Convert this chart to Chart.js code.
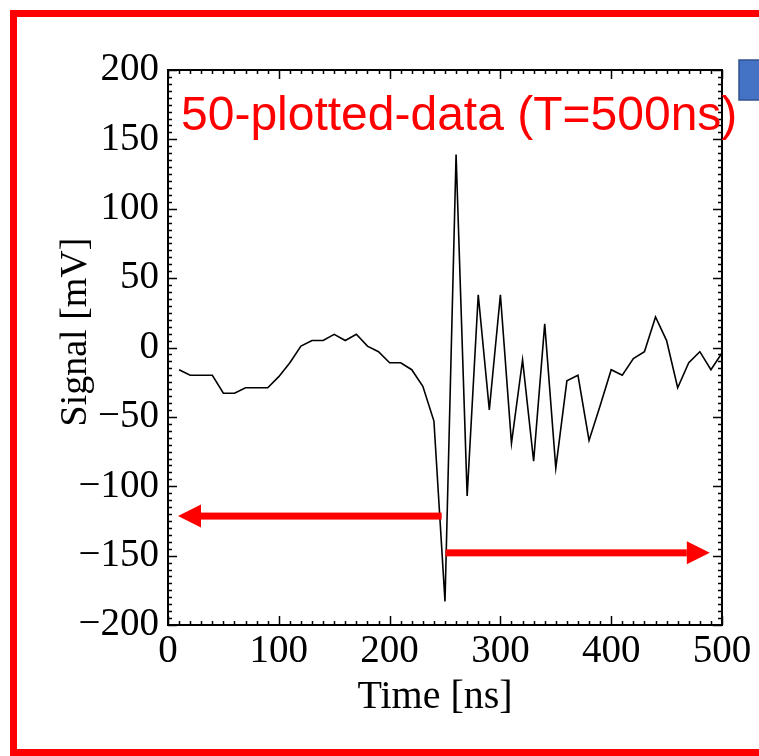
<!DOCTYPE html>
<html>
<head>
<meta charset="utf-8">
<script src="https://cdn.jsdelivr.net/npm/chart.js@4"></script>
<style>
  html, body { margin: 0; padding: 0; background: #fff; overflow: hidden; }
  canvas { display: block; }
</style>
</head>
<body>
<canvas id="grafico" width="759" height="756"></canvas>
<script>
// sampled waveform, 10 ns step
const tempos = [10, 20, 30, 40, 50, 60, 70, 80, 90, 100,
  110, 120, 130, 140, 150, 160, 170, 180, 190, 200,
  210, 220, 230, 240, 250, 260, 270, 280, 290, 300,
  310, 320, 330, 340, 350, 360, 370, 380, 390, 400,
  410, 420, 430, 440, 450, 460, 470, 480, 490, 500]
const sinal = [-16, -20, -20, -20, -33, -33, -29, -29, -29, -21,
  -11, 1, 5, 5, 9.5, 5, 9.5, 1, -3, -11,
  -11, -16, -28, -53, -183, 139, -107, 38, -45, 38,
  -69, -9, -82, 17, -87, -24, -20, -67, -42, -16,
  -20, -8, -3, 22, 5, -29, -11, -3, -16, -4]

const limitesX = [0, 500]
const limitesY = [-200, 200]
const passoX = [100, 10]   // major, minor
const passoY = [50, 5]

const titulo = '50-plotted-data (T=500ns)'
const tituloX = 'Time [ns]'
const tituloY = 'Signal [mV]'

// red arrows, in data units: [tStart, tEnd, value]
const setaEsquerda = [247, 9, -121.5]
const setaDireita = [250.5, 489, -148]

const fonteSerif = '"Liberation Serif", "Times New Roman", serif'

const desenhos = {
  id: 'desenhos',
  beforeDraw(chart) {
    const ctx = chart.ctx
    ctx.save()
    ctx.fillStyle = '#fff'
    ctx.fillRect(0, 0, chart.width, chart.height)
    // red frame
    ctx.fillStyle = '#ff0000'
    ctx.fillRect(10, 10, chart.width, 7)
    ctx.fillRect(10, 10, 7, chart.height)
    ctx.fillRect(10, 749, chart.width, 7)
    // blue box on the right
    ctx.fillStyle = '#4472c4'
    ctx.strokeStyle = '#2f528f'
    ctx.lineWidth = 1.5
    ctx.fillRect(739, 60, 30, 40)
    ctx.strokeRect(739, 60, 30, 40)
    ctx.restore()
  },
  afterDatasetsDraw(chart) {
    const ctx = chart.ctx
    const { left, right, top, bottom } = chart.chartArea
    const x = chart.scales.x
    const y = chart.scales.y
    ctx.save()

    // ticks on all four sides, pointing inward
    ctx.strokeStyle = '#000'
    ctx.lineWidth = 1.5
    ctx.beginPath()
    for (let v = limitesX[0]; v <= limitesX[1]; v += passoX[1]) {
      const px = Math.round(x.getPixelForValue(v)) + 0.5
      const len = v % passoX[0] === 0 ? 9 : 4
      ctx.moveTo(px, bottom); ctx.lineTo(px, bottom - len)
      ctx.moveTo(px, top); ctx.lineTo(px, top + len)
    }
    for (let v = limitesY[0]; v <= limitesY[1]; v += passoY[1]) {
      const py = Math.round(y.getPixelForValue(v)) + 0.5
      const len = v % passoY[0] === 0 ? 9 : 4
      ctx.moveTo(left, py); ctx.lineTo(left + len, py)
      ctx.moveTo(right, py); ctx.lineTo(right - len, py)
    }
    ctx.stroke()

    ctx.lineWidth = 2
    ctx.strokeRect(left, top, right - left, bottom - top)

    // arrows
    const seta = (a) => {
      const x0 = x.getPixelForValue(a[0])
      const x1 = x.getPixelForValue(a[1])
      const py = y.getPixelForValue(a[2])
      const dir = x1 > x0 ? 1 : -1
      const cab = 23
      ctx.fillStyle = '#ff0000'
      ctx.fillRect(Math.min(x0, x1 - dir * cab), py - 3.5, Math.abs(x1 - dir * cab - x0), 7)
      ctx.beginPath()
      ctx.moveTo(x1, py)
      ctx.lineTo(x1 - dir * cab, py - 11.5)
      ctx.lineTo(x1 - dir * cab, py + 11.5)
      ctx.closePath()
      ctx.fill()
    }
    seta(setaEsquerda)
    seta(setaDireita)

    // red title inside plot
    ctx.fillStyle = '#ff0000'
    ctx.font = '48px "Liberation Sans", Arial, sans-serif'
    ctx.textAlign = 'left'
    ctx.textBaseline = 'alphabetic'
    ctx.fillText(titulo, left + 13, top + 60)

    // axis titles
    ctx.fillStyle = '#000'
    ctx.textAlign = 'center'
    ctx.textBaseline = 'middle'
    ctx.font = '40px ' + fonteSerif
    ctx.fillText(tituloX, (left + right) / 2 - 10, 697)
    ctx.translate(76, 332)
    ctx.rotate(-Math.PI / 2)
    ctx.font = '38px ' + fonteSerif
    ctx.fillText(tituloY, 0, 0)

    ctx.restore()
  }
}

const menos = v => (v < 0 ? '\u2212' + Math.abs(v) : String(v))

let graficoSinal = new Chart(document.getElementById('grafico'), {
  type: 'line',
  data: {
    datasets: [{
      data: tempos.map((t, i) => ({ x: t, y: sinal[i] })),
      borderColor: '#000',
      borderWidth: 1.6,
      pointRadius: 0,
      tension: 0,
      fill: false
    }]
  },
  options: {
    responsive: false,
    animation: false,
    devicePixelRatio: 1,
    layout: { padding: { left: 0, top: 70, right: 37, bottom: 0 } },
    plugins: {
      legend: { display: false },
      tooltip: { enabled: false }
    },
    scales: {
      x: {
        type: 'linear',
        min: limitesX[0],
        max: limitesX[1],
        grid: { display: false, drawTicks: false },
        border: { display: false },
        ticks: {
          stepSize: passoX[0],
          padding: 3,
          maxRotation: 0,
          autoSkip: false,
          color: '#000',
          font: { family: fonteSerif, size: 39 },
          callback: v => menos(v)
        },
        afterFit: s => { s.height = 131 }
      },
      y: {
        min: limitesY[0],
        max: limitesY[1],
        grid: { display: false, drawTicks: false },
        border: { display: false },
        ticks: {
          stepSize: passoY[0],
          padding: 9,
          autoSkip: false,
          color: '#000',
          font: { family: fonteSerif, size: 39 },
          callback: v => menos(v)
        },
        afterFit: s => { s.width = 168 }
      }
    }
  },
  plugins: [desenhos]
})
</script>
</body>
</html>
